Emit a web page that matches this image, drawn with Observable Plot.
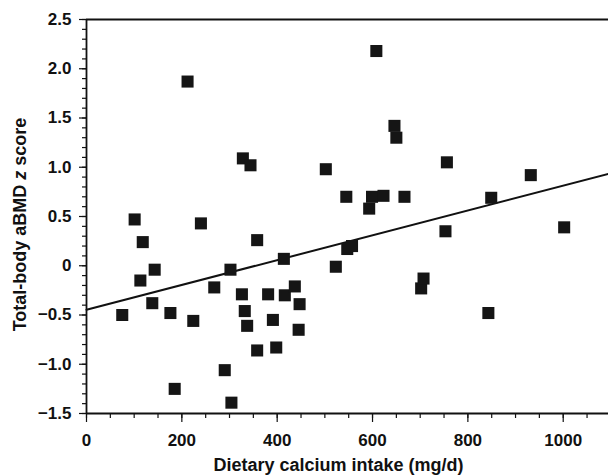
<!DOCTYPE html>
<html><head><meta charset="utf-8">
<script src="https://cdn.jsdelivr.net/npm/d3@7"></script>
<script src="https://cdn.jsdelivr.net/npm/@observablehq/plot@0.6"></script>
<style>html,body{margin:0;padding:0;background:#fff;overflow:hidden}</style>
</head><body><div id="chart"></div>
<script>
// Dietary calcium intake (mg/d) and total-body aBMD z score
const calciumIntake = [75, 101, 113, 118, 138, 143, 176, 185, 212, 224,
  240, 268, 290, 302, 304, 326, 328, 332, 337, 344,
  358, 358, 381, 391, 398, 414, 416, 437, 445, 447,
  502, 523, 545, 547, 557, 593, 599, 608, 623, 646,
  650, 667, 702, 707, 753, 756, 843, 849, 932, 1002];
const zScore = [-0.50, 0.47, -0.15, 0.24, -0.38, -0.04, -0.48, -1.25, 1.87, -0.56,
  0.43, -0.22, -1.06, -0.04, -1.39, -0.29, 1.09, -0.46, -0.61, 1.02,
  0.26, -0.86, -0.29, -0.55, -0.83, 0.07, -0.30, -0.21, -0.65, -0.39,
  0.98, -0.01, 0.70, 0.17, 0.20, 0.58, 0.70, 2.18, 0.71, 1.42,
  1.30, 0.70, -0.23, -0.13, 0.35, 1.05, -0.48, 0.69, 0.92, 0.39];
// Fitted regression line
const fitIntercept = -0.447;
const fitSlope = 0.00126;
const xDomain = [0, 1095];
const yDomain = [-1.5, 2.5];
const xTicks = [0, 200, 400, 600, 800, 1000];
const yTicks = [-1.5, -1.0, -0.5, 0, 0.5, 1.0, 1.5, 2.0, 2.5];
const xMinorTicks = d3.range(0, 1100, 50);
const yMinorTicks = d3.range(-15, 26).map(d => d / 10);
const xTitle = "Dietary calcium intake (mg/d)";
const yTitle = "Total-body aBMD z score";

const points = calciumIntake.map((x, i) => ({x, y: zScore[i]}));
const fitLine = xDomain.map(x => ({x, y: fitIntercept + fitSlope * x}));
const yFmt = d => d === 0 ? "0" : d3.format(".1f")(d);

const chart = Plot.plot({
  width: 608,
  height: 476,
  marginLeft: 86,
  marginRight: 0,
  marginTop: 19,
  marginBottom: 63,
  style: {fontFamily: "'Liberation Sans', Arial, sans-serif", fontWeight: "bold", fontSize: "17px", color: "#111", background: "#fff"},
  x: {domain: xDomain, label: null},
  y: {domain: yDomain, label: null},
  marks: [
    Plot.axisX(xMinorTicks, {tickSize: 5, fill: "none", label: null, strokeWidth: 1.2}),
    Plot.axisX(xTicks, {tickSize: 9, tickPadding: 11, label: null, strokeWidth: 1.2, tickFormat: d => String(d)}),
    Plot.axisY(yMinorTicks, {tickSize: 4, fill: "none", label: null, strokeWidth: 1.2}),
    Plot.axisY(yTicks, {tickSize: 7, tickPadding: 8, label: null, strokeWidth: 1.2, tickFormat: yFmt}),
    Plot.ruleY([yDomain[0], yDomain[1]], {stroke: "#111", strokeWidth: 1.8}),
    Plot.ruleX([xDomain[0]], {stroke: "#111", strokeWidth: 1.8}),
    Plot.line(fitLine, {x: "x", y: "y", stroke: "#111", strokeWidth: 2}),
    Plot.dot(points, {x: "x", y: "y", symbol: "square", r: 6.8, fill: "#151515", stroke: "none"}),
    Plot.text([xTitle], {frameAnchor: "bottom", dx: -9, dy: 52, fontSize: 18, fontWeight: "bold", fill: "#111", lineAnchor: "middle"}),
    Plot.text([yTitle], {frameAnchor: "left", rotate: -90, dx: -66, dy: 8, textAnchor: "middle", fontSize: 18, fontWeight: "bold", fill: "#111", lineAnchor: "middle"})
  ]
});
document.getElementById("chart").appendChild(chart);

// italicize the "z" in the y-axis title
chart.querySelectorAll("text").forEach(t => {
  if (t.textContent === yTitle) {
    const parts = ["Total-body aBMD ", "z", " score"];
    t.textContent = "";
    parts.forEach((p, i) => {
      const ts = document.createElementNS("http://www.w3.org/2000/svg", "tspan");
      ts.textContent = p;
      if (i === 1) ts.setAttribute("font-style", "italic");
      t.appendChild(ts);
    });
  }
});
</script>
</body></html>
